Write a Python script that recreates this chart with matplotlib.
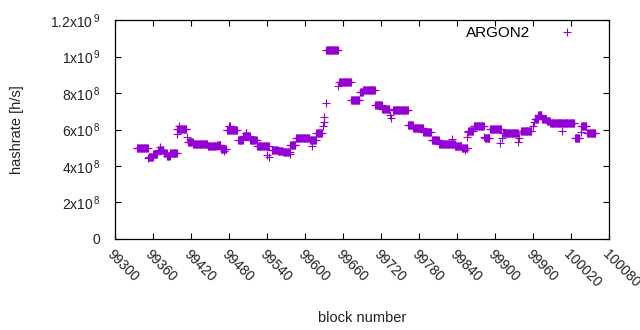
import numpy as np
import matplotlib
matplotlib.use("Agg")
import matplotlib.pyplot as plt
from matplotlib.ticker import FixedLocator

plt.rcParams['font.family'] = ['Liberation Sans', 'DejaVu Sans']
plt.rcParams['mathtext.fontset'] = 'custom'
plt.rcParams['mathtext.rm'] = 'Liberation Sans'
plt.rcParams['mathtext.it'] = 'Liberation Sans'

# Runs of consecutive blocks sharing one hashrate value
run_start = [99335, 99353, 99354, 99361, 99369, 99371, 99378, 99383, 99388, 99398,
             99399, 99401, 99414, 99416, 99424, 99447, 99462, 99468, 99473, 99477,
             99480, 99495, 99503, 99507, 99514, 99525, 99540, 99544, 99548, 99558,
             99566, 99576, 99577, 99586, 99608, 99611, 99618, 99628, 99630, 99631,
             99633, 99634, 99653, 99654, 99673, 99687, 99692, 99711, 99722, 99735,
             99736, 99739, 99763, 99771, 99787, 99800, 99812, 99832, 99837, 99848,
             99852, 99855, 99857, 99858, 99866, 99882, 99884, 99892, 99908, 99911,
             99913, 99936, 99938, 99941, 99960, 99962, 99963, 99968, 99974, 99982,
             99987, 100005, 100026, 100035, 100036, 100045]
run_end = [99352, 99353, 99360, 99367, 99377, 99371, 99382, 99387, 99398, 99398,
           99413, 99401, 99414, 99423, 99446, 99461, 99467, 99476, 99473, 99493,
           99482, 99502, 99513, 99508, 99524, 99543, 99540, 99544, 99557, 99565,
           99576, 99576, 99585, 99607, 99617, 99611, 99627, 99628, 99630, 99631,
           99633, 99652, 99653, 99672, 99686, 99691, 99710, 99721, 99733, 99735,
           99736, 99762, 99770, 99786, 99799, 99811, 99836, 99832, 99847, 99856,
           99852, 99855, 99857, 99865, 99882, 99882, 99891, 99909, 99908, 99911,
           99936, 99936, 99938, 99957, 99960, 99962, 99967, 99973, 99981, 99986,
           100025, 100005, 100033, 100035, 100044, 100058]
run_value = [4.97e8, 4.42e8, 4.49e8, 4.66e8, 4.88e8, 5.06e8, 4.71e8, 4.55e8, 4.71e8, 5.74e8,
             6.03e8, 6.19e8, 5.57e8, 5.34e8, 5.21e8, 5.08e8, 5.15e8, 4.93e8, 4.82e8, 5.97e8,
             6.19e8, 5.43e8, 5.64e8, 5.81e8, 5.43e8, 5.12e8, 4.60e8, 4.48e8, 4.88e8, 4.80e8,
             4.74e8, 4.66e8, 5.15e8, 5.53e8, 5.43e8, 5.10e8, 5.83e8, 6.19e8, 6.43e8, 6.67e8,
             7.44e8, 1.034e9, 8.40e8, 8.59e8, 7.60e8, 8.06e8, 8.15e8, 7.34e8, 7.14e8, 6.80e8,
             6.63e8, 7.05e8, 6.25e8, 6.10e8, 5.85e8, 5.45e8, 5.19e8, 5.46e8, 5.12e8, 5.01e8,
             4.88e8, 5.61e8, 5.88e8, 5.92e8, 6.19e8, 5.57e8, 5.52e8, 6.03e8, 5.28e8, 5.52e8,
             5.79e8, 5.33e8, 5.52e8, 5.90e8, 6.19e8, 6.43e8, 6.56e8, 6.78e8, 6.59e8, 6.47e8,
             6.34e8, 5.93e8, 5.56e8, 5.88e8, 6.18e8, 5.79e8]

x_ticks = [99300, 99360, 99420, 99480, 99540, 99600, 99660, 99720, 99780, 99840,
           99900, 99960, 100020, 100080]
y_ticks = [0, 2e8, 4e8, 6e8, 8e8, 1e9, 1.2e9]
y_labels = ['0', r'2x10$^{\,8}$', r'4x10$^{\,8}$', r'6x10$^{\,8}$', r'8x10$^{\,8}$',
            r'1x10$^{\,9}$', r'1.2x10$^{\,9}$']

blocks = []
hashrate = []
for s, e, v in zip(run_start, run_end, run_value):
    for b in range(s, e + 1):
        blocks.append(b)
        hashrate.append(v)

color = '#9400D3'
fig = plt.figure(figsize=(6.4, 3.3), dpi=100)
ax = fig.add_axes([0.179, 0.276, 0.773, 0.663])
ax.plot(blocks, hashrate, linestyle='none', marker='+', markersize=5.2,
        markeredgewidth=0.8, color=color, label='ARGON2')

ax.set_xlim(99300, 100080)
ax.set_ylim(0, 1.2e9)
ax.xaxis.set_major_locator(FixedLocator(x_ticks))
ax.set_xticklabels([str(t) for t in x_ticks], rotation=-45, ha='left', va='top',
                   rotation_mode='anchor', fontsize=10)
ax.yaxis.set_major_locator(FixedLocator(y_ticks))
ax.set_yticklabels(y_labels, fontsize=10)
ax.tick_params(direction='in', length=4, width=0.8, top=True, right=True,
               color='black', labelcolor='#222222')
ax.tick_params(axis='x', pad=6)
ax.tick_params(axis='y', pad=10)
for sp in ax.spines.values():
    sp.set_linewidth(0.9)
    sp.set_color('black')

ax.set_xlabel('block number', fontsize=10.5, color='#222222', labelpad=15)
ax.set_ylabel('hashrate [h/s]', fontsize=10.5, color='#222222', labelpad=19)

ax.legend(loc='upper right', frameon=False, markerfirst=False, fontsize=11,
          handlelength=2.0, handletextpad=1.4, borderaxespad=0.0,
          bbox_to_anchor=(0.958, 1.0))

fig.savefig('out.png', dpi=100)
